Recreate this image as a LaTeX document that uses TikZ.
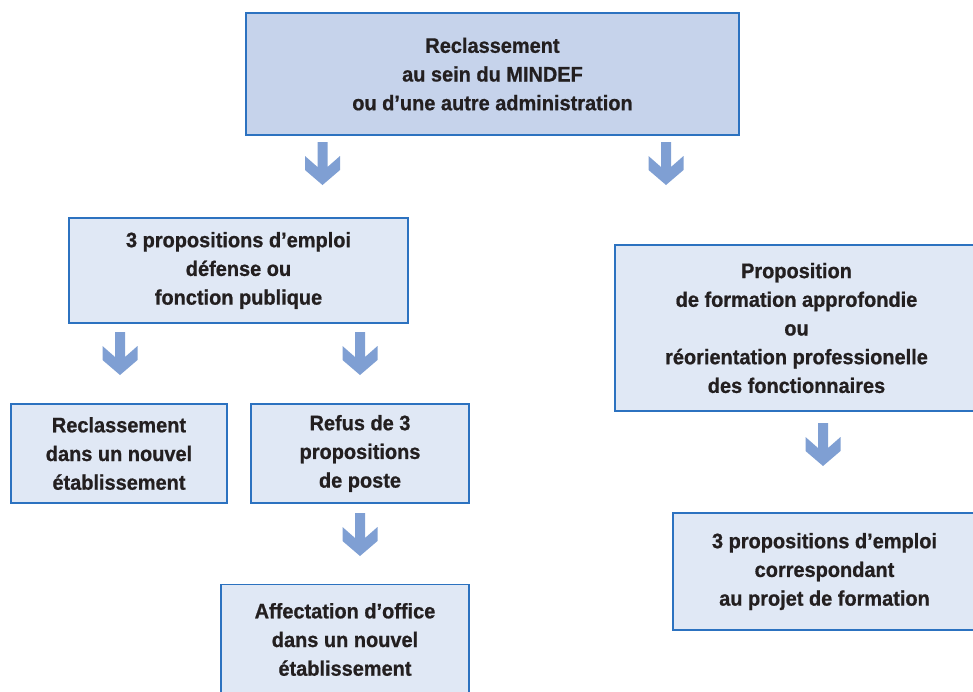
\documentclass[tikz,border=0pt]{standalone}
\usepackage{fontspec}
\setmainfont{Liberation Sans}[FakeStretch=0.95,FakeBold=0.8]
\definecolor{boxline}{HTML}{2C72C0}
\definecolor{topfill}{HTML}{C6D3EB}
\definecolor{boxfill}{HTML}{E0E8F5}
\definecolor{arrowfill}{HTML}{7F9FD3}
\definecolor{txt}{HTML}{231F20}
\begin{document}
\begin{tikzpicture}[x=1pt,y=-1pt,
  box/.style={draw=boxline, line width=1.3pt, fill=boxfill, rectangle, inner sep=0pt,
    align=center, text=txt, font=\fontsize{21}{28.7}\selectfont\bfseries},
  topbox/.style={box, fill=topfill},
  downarrow/.pic={\fill[arrowfill] (-5,0) -- (5,0) -- (5,25) -- (17.5,14) -- (17.5,28)
      -- (0,43) -- (-17.5,28) -- (-17.5,14) -- (-5,25) -- cycle;}]
\useasboundingbox (0,0) rectangle (973,691);
\clip (0,0) rectangle (973,691);
\node[topbox, minimum width=493pt, minimum height=122pt] (top) at (492.5,74)
  {Reclassement\\au sein du MINDEF\\ou d’une autre administration};
\node[box, minimum width=339pt, minimum height=105pt] (prop) at (238.5,270.5)
  {3 propositions d’emploi\\défense ou\\fonction publique};
\node[box, minimum width=216pt, minimum height=99pt] (recl) at (119,453.5)
  {Reclassement\\dans un nouvel\\établissement};
\node[box, minimum width=218pt, minimum height=99pt] (refus) at (360,453.5)
  {Refus de 3\\propositions\\de poste};
\node[box, minimum width=248pt, minimum height=110pt] (affect) at (345,639.5)
  {Affectation d’office\\dans un nouvel\\établissement};
\node[box, minimum width=363pt, minimum height=166pt] (form) at (796.5,328)
  {Proposition\\de formation approfondie\\ou\\réorientation professionelle\\des fonctionnaires};
\node[box, minimum width=303pt, minimum height=117pt] (emploi) at (824.5,571.5)
  {3 propositions d’emploi\\correspondant\\au projet de formation};
\coordinate (a1) at (322.5,142);
\coordinate (a2) at (666,142);
\coordinate (a3) at (120,332);
\coordinate (a4) at (360,332);
\coordinate (a5) at (360,513);
\coordinate (a6) at (823,423);
\foreach \c in {a1,a2,a3,a4,a5,a6} \pic at (\c) {downarrow};
\end{tikzpicture}
\end{document}
